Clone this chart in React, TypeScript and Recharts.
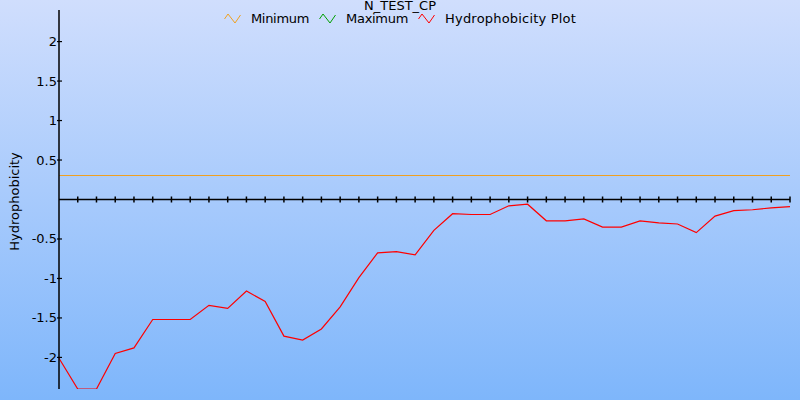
import { LineChart, Line, XAxis, YAxis, ReferenceLine, Legend } from "recharts";

// residue positions along the sequence
const positions = [
  1, 2, 3, 4, 5, 6, 7, 8, 9, 10, 11, 12, 13, 14, 15, 16, 17, 18, 19, 20,
  21, 22, 23, 24, 25, 26, 27, 28, 29, 30, 31, 32, 33, 34, 35, 36, 37, 38, 39, 40,
];

const hydrophobicity = [
  -2.01, -2.4, -2.4, -1.95, -1.88, -1.52, -1.52, -1.52, -1.34, -1.38,
  -1.16, -1.29, -1.73, -1.78, -1.64, -1.36, -0.99, -0.675, -0.66, -0.7,
  -0.39, -0.18, -0.19, -0.19, -0.08, -0.06, -0.27, -0.27, -0.245, -0.35,
  -0.35, -0.27, -0.295, -0.31, -0.42, -0.21, -0.14, -0.13, -0.105, -0.09,
];

const minimumLevel = 0.3;

const yTicks = [-2, -1.5, -1, -0.5, 0.5, 1, 1.5, 2];

const legendOrder = ["Minimum", "Maximum", "Hydrophobicity Plot"];

const data = positions.map((pos, i) => ({
  pos,
  hydro: hydrophobicity[i],
  min: minimumLevel,
  axis: 0,
}));

const FONT = '"DejaVu Sans", Verdana, sans-serif';

const YTick = (props: any) => {
  const { x, y, payload } = props;
  return (
    <g>
      <line x1={x - 2} x2={x + 3} y1={y} y2={y} stroke="#000" strokeWidth={1.2} />
      <text x={x - 2} y={y} dy={4.5} textAnchor="end" fontSize={13} fill="#000" fontFamily={FONT}>
        {payload.value}
      </text>
    </g>
  );
};

const XTickMark = (props: any) => {
  const { cx, cy, index } = props;
  if (index === 0) return <g key={`t${index}`} />;
  return <line key={`t${index}`} x1={cx} x2={cx} y1={cy - 3} y2={cy + 3} stroke="#000" strokeWidth={1.5} />;
};

const ZigZag = ({ color }: { color: string }) => (
  <svg width={17} height={11} style={{ display: "block" }}>
    <polyline points="0.5,6 4,1 11,10 16.5,2" fill="none" stroke={color} strokeWidth={1} />
  </svg>
);

const LegendContent = (props: any) => {
  const items = (props.payload || [])
    .filter((p: any) => p.type !== "none")
    .sort((a: any, b: any) => legendOrder.indexOf(a.value) - legendOrder.indexOf(b.value));
  return (
    <div
      style={{
        display: "flex",
        justifyContent: "center",
        alignItems: "center",
        fontFamily: FONT,
        fontSize: 13,
        lineHeight: "13px",
        color: "#000",
      }}
    >
      {items.map((item: any, i: number) => (
        <div
          key={item.value}
          style={{ display: "flex", alignItems: "center", marginRight: i < items.length - 1 ? 10 : 0 }}
        >
          <ZigZag color={item.color} />
          <span style={{ marginLeft: 10, letterSpacing: item.value.length > 10 ? 0.2 : -0.3 }}>{item.value}</span>
        </div>
      ))}
    </div>
  );
};

export default function App() {
  return (
    <div
      style={{
        position: "relative",
        width: 800,
        height: 400,
        background: "linear-gradient(to bottom, #d0defd, #7eb6fb)",
        fontFamily: FONT,
        overflow: "hidden",
      }}
    >
      <style>{"body{margin:0}"}</style>
      <div
        style={{
          position: "absolute",
          top: -1,
          left: 0,
          width: 800,
          textAlign: "center",
          fontSize: 13,
          lineHeight: "13px",
          color: "#000",
        }}
      >
        N_TEST_CP
      </div>
      <LineChart width={800} height={400} data={data} margin={{ top: 10, right: 10, bottom: 11, left: 0 }}>
        <XAxis dataKey="pos" type="number" domain={["dataMin", "dataMax"]} hide />
        <YAxis
          domain={[-2.4, 2.4]}
          ticks={yTicks}
          width={59}
          tickSize={0}
          tickMargin={0}
          tickLine={false}
          tick={<YTick />}
          axisLine={{ stroke: "#000", strokeWidth: 1.5 }}
          allowDataOverflow
          label={(p: any) => {
            const vb = p.viewBox || { x: 0, y: 10, width: 59, height: 379 };
            const cx = vb.x + 14.5;
            const cy = vb.y + vb.height / 2 + 2;
            return (
              <text
                x={cx}
                y={cy}
                transform={`rotate(-90 ${cx} ${cy})`}
                textAnchor="middle"
                dy={4.5}
                fontSize={13}
                fill="#000"
                fontFamily={FONT}
              >
                Hydrophobicity
              </text>
            );
          }}
        />
        <ReferenceLine y={0} stroke="#000" strokeWidth={1.5} ifOverflow="extendDomain" />
        <Line
          dataKey="min"
          name="Minimum"
          stroke="#f0a020"
          strokeWidth={1}
          shapeRendering="crispEdges"
          dot={false}
          isAnimationActive={false}
        />
        <Line
          dataKey="max"
          name="Maximum"
          stroke="#00a000"
          strokeWidth={1}
          dot={false}
          isAnimationActive={false}
        />
        <Line
          dataKey="hydro"
          name="Hydrophobicity Plot"
          stroke="#ff0000"
          strokeWidth={1.2}
          dot={false}
          isAnimationActive={false}
        />
        <Line
          dataKey="axis"
          stroke="none"
          legendType="none"
          dot={XTickMark}
          activeDot={false}
          isAnimationActive={false}
        />
        <Legend
          verticalAlign="middle"
          align="center"
          layout="horizontal"
          wrapperStyle={{ top: 12, left: 0, width: 800 }}
          content={LegendContent}
        />
      </LineChart>
    </div>
  );
}
